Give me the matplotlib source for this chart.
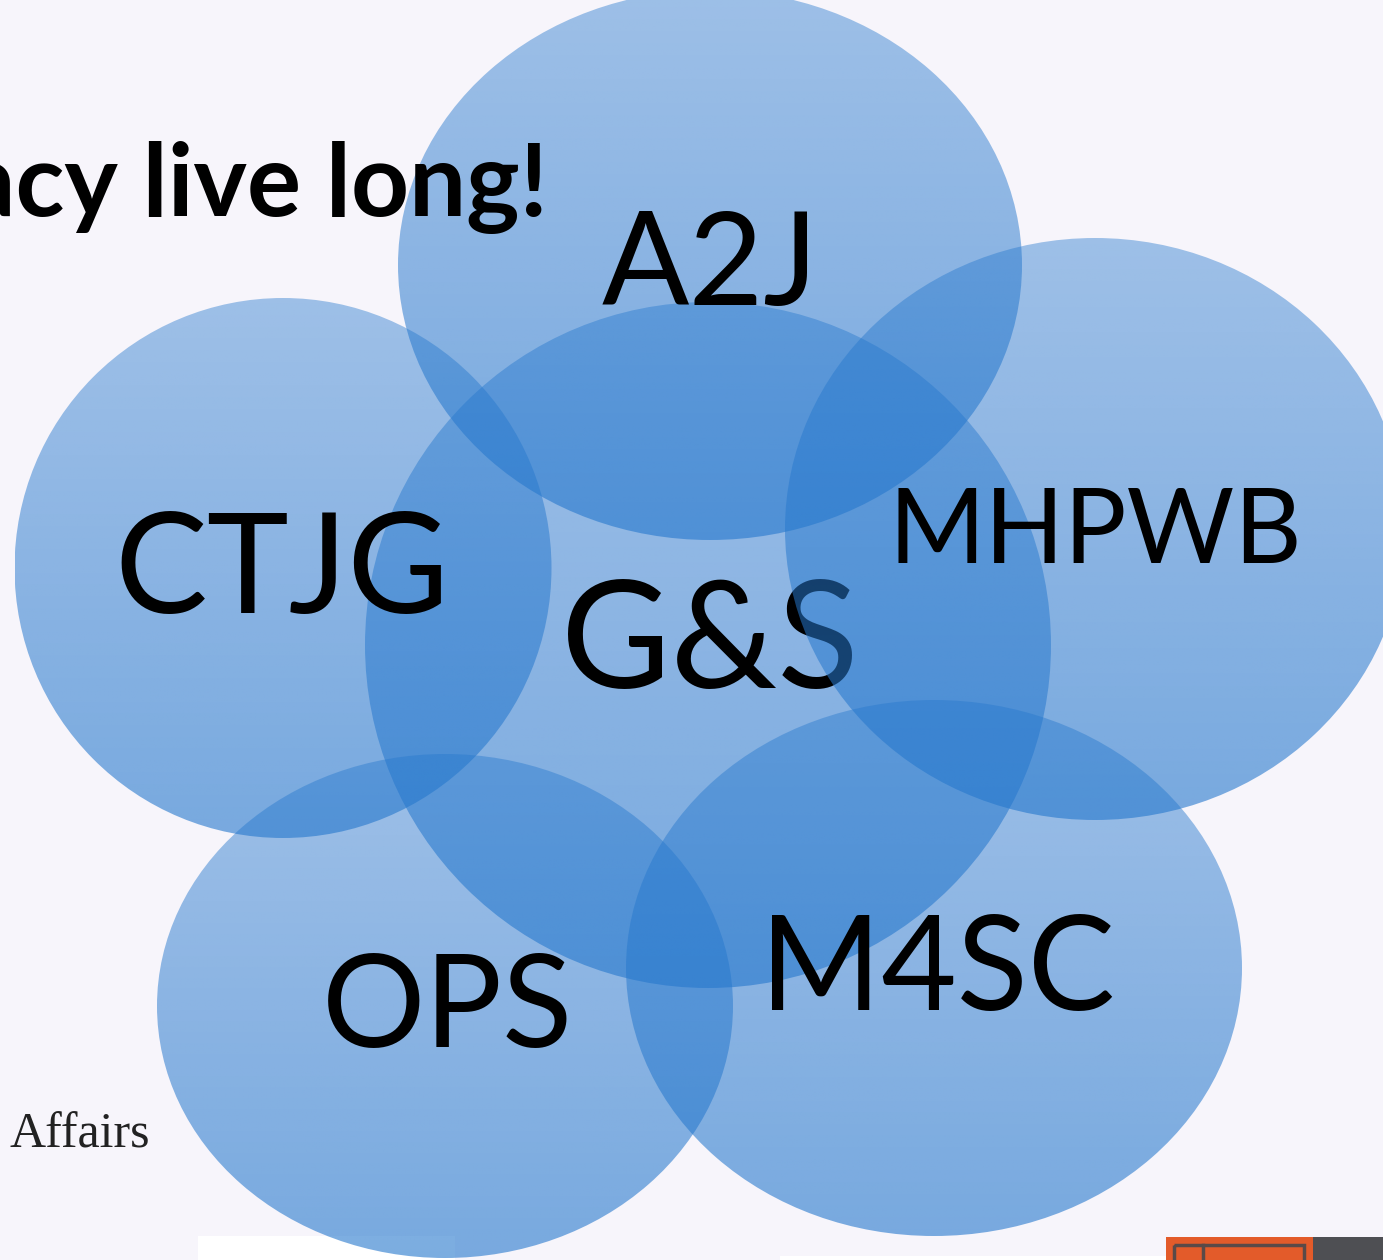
import numpy as np
import matplotlib
matplotlib.use("Agg")
import matplotlib.pyplot as plt
from matplotlib.patches import Ellipse, Rectangle

# ---- data ----
labels = ["G&S", "A2J", "CTJG", "MHPWB", "OPS", "M4SC"]
centers_x = [708, 710, 283, 1095, 445, 934]
centers_y = [645, 265, 568, 529, 1006, 968]
widths = [686, 624, 537, 620, 576, 616]
heights = [686, 550, 540, 582, 504, 536]
label_x = [710, 710, 282, 1095, 447, 937]
label_y = [688, 305, 613, 563, 1047, 1010]
label_size = [108, 93, 100, 75, 93, 94]
title_text = "acy live long!"
footer_text = "Affairs"

W, H = 1383, 1260
BG = "#f7f5fb"
C = np.array([38, 120, 205]) / 255.0

fig = plt.figure(figsize=(W / 100, H / 100), dpi=100, facecolor=BG)
ax = fig.add_axes([0, 0, 1, 1])
ax.set_xlim(0, W)
ax.set_ylim(H, 0)
ax.axis("off")
ax.set_facecolor(BG)

# title (drawn above the ellipses) and footer
ax.text(548, 216, title_text, ha="right", va="baseline", fontsize=73,
        fontweight="bold", family="Lato", color="black", zorder=7)
ax.text(10, 1148, footer_text, ha="left", va="baseline", fontsize=36,
        family="Liberation Serif", color="#222222", zorder=1)

# bottom logo fragments
ax.add_patch(Rectangle((198, 1236), 257, 30, facecolor="white", edgecolor="none", zorder=1))
ax.add_patch(Rectangle((780, 1256), 386, 10, facecolor="white", edgecolor="none", zorder=1))
ax.add_patch(Rectangle((1166, 1237), 147, 30, facecolor="#e35b2a", edgecolor="none", zorder=8))
ax.add_patch(Rectangle((1313, 1237), 80, 30, facecolor="#4e4f53", edgecolor="none", zorder=8))
ax.add_patch(Rectangle((1174, 1245), 130, 30, facecolor="none", edgecolor="#5a4a48", lw=2.5, zorder=9))
ax.plot([1203, 1203], [1245, 1262], color="#5a4a48", lw=2.5, zorder=9)


def grad_ellipse(cx, cy, w, h, z):
    e = Ellipse((cx, cy), w, h, facecolor="none", edgecolor="none", zorder=z)
    ax.add_patch(e)
    n = 256
    a = np.linspace(0.43, 0.61, n)
    img = np.zeros((n, 2, 4))
    img[:, :, 0] = C[0]
    img[:, :, 1] = C[1]
    img[:, :, 2] = C[2]
    img[:, :, 3] = a[:, None]
    im = ax.imshow(img, extent=(cx - w / 2, cx + w / 2, cy + h / 2, cy - h / 2),
                   origin="upper", interpolation="bilinear", zorder=z, aspect="auto")
    im.set_clip_path(e)


for i, lab in enumerate(labels):
    zc = 2 if i == 0 else 4
    zt = 3 if i == 0 else 6
    grad_ellipse(centers_x[i], centers_y[i], widths[i], heights[i], zc)
    ax.text(label_x[i], label_y[i], lab, ha="center", va="baseline",
            fontsize=label_size[i], family="Lato", color="black", zorder=zt)

ax.set_xlim(0, W)
ax.set_ylim(H, 0)
fig.savefig("out.png", dpi=100, facecolor=BG)
